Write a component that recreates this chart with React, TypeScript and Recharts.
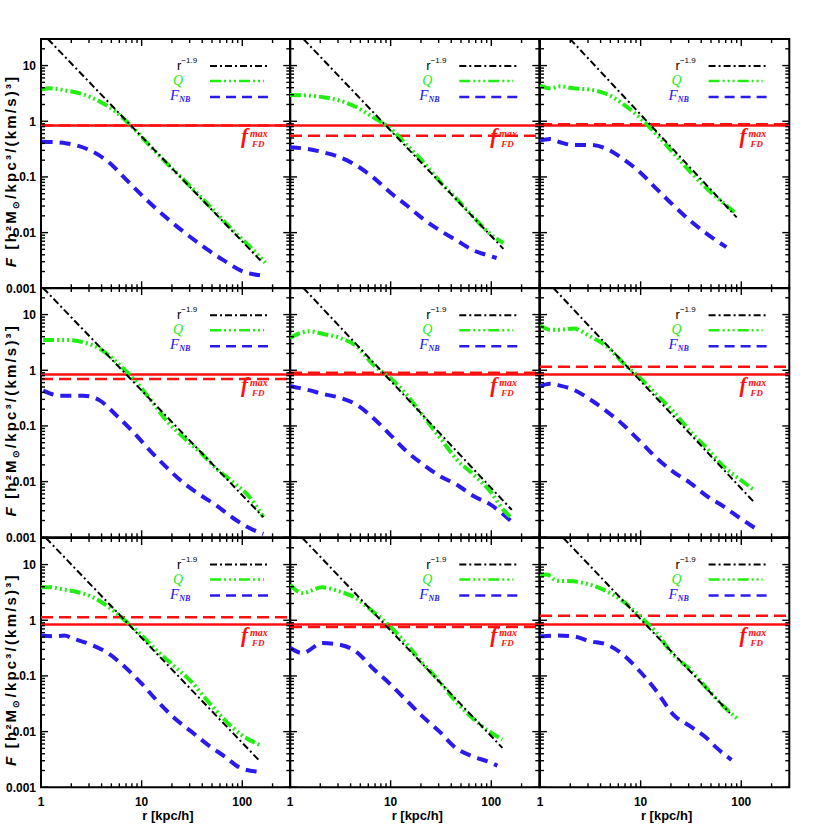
import React from "react";
import { LineChart, Line, XAxis, YAxis, ReferenceLine, ReferenceArea } from "recharts";

type Pt = [number, number];

// axis ticks
const X_TICKS = [1, 2, 3, 4, 5, 6, 7, 8, 9, 10, 20, 30, 40, 50, 60, 70, 80, 90, 100, 200, 300];
const X_MAJOR = [1, 10, 100];
const Y_TICKS = [
  0.001, 0.002, 0.003, 0.004, 0.005, 0.006, 0.007, 0.008, 0.009,
  0.01, 0.02, 0.03, 0.04, 0.05, 0.06, 0.07, 0.08, 0.09,
  0.1, 0.2, 0.3, 0.4, 0.5, 0.6, 0.7, 0.8, 0.9,
  1, 2, 3, 4, 5, 6, 7, 8, 9, 10, 20, 30,
];
const Y_MAJOR = [0.001, 0.01, 0.1, 1, 10];

// f_FD^max (solid red, same in every panel) and F_NB max (dashed red, per panel)
const FD_MAX = 0.84;
const FD_NB = [0.84, 0.55, 0.88, 0.7, 0.9, 1.16, 1.13, 0.76, 1.21];

// r^-1.9 reference lines: start / end
const PL1: Pt[] = [[1.17, 30], [156, 0.003]];
const PL2: Pt[] = [[1.36, 30], [132, 0.0051]];
const PL3: Pt[] = [[1.99, 30], [90, 0.0188]];
const PL4: Pt[] = [[1.05, 30], [162, 0.0023]];
const PL5: Pt[] = [[1.36, 30], [160, 0.0031]];
const PL6: Pt[] = [[1.36, 30], [132, 0.0044]];
const PL7: Pt[] = [[1.12, 30], [148, 0.003]];
const PL8: Pt[] = [[1.33, 30], [129, 0.0051]];
const PL9: Pt[] = [[1.71, 30], [77, 0.0216]];

// Q profiles
const Q1: Pt[] = [[1.015, 3.75], [1.23, 3.9], [1.8, 3.54], [2.63, 3.05], [3.86, 2.24], [5.24, 1.59], [7.68, 0.86], [12.1, 0.36], [17.8, 0.175], [26, 0.09], [38, 0.045], [55.6, 0.022], [81.6, 0.0108], [119, 0.0056], [169, 0.0029]];
const Q2: Pt[] = [[1, 2.96], [1.46, 2.9], [2.14, 2.7], [3.14, 2.34], [4.6, 1.78], [6.7, 1.18], [9.85, 0.75], [14.4, 0.38], [21.1, 0.185], [31, 0.082], [45.5, 0.04], [66.5, 0.019], [97.5, 0.0095], [132, 0.0065]];
const Q3: Pt[] = [[1, 4.36], [1.26, 3.9], [1.58, 4.24], [2.14, 3.9], [3.14, 3.69], [4.6, 3.09], [6.7, 2.04], [9.85, 1.15], [14.4, 0.58], [21.1, 0.27], [31, 0.125], [45.5, 0.062], [66.5, 0.034], [90, 0.0216]];
const Q4: Pt[] = [[1.05, 3.5], [1.8, 3.5], [2.63, 3.18], [3.86, 2.41], [5.65, 1.39], [8.3, 0.7], [12.1, 0.305], [17.7, 0.124], [26, 0.0625], [38, 0.034], [55.6, 0.0169], [81.5, 0.0097], [119, 0.0052], [162, 0.0023]];
const Q5: Pt[] = [[1, 3.8], [1.26, 4.67], [1.58, 5.0], [2.14, 4.48], [3.14, 3.8], [4.6, 2.69], [6.7, 1.26], [9.85, 0.73], [14.4, 0.365], [21.1, 0.149], [31, 0.061], [45.5, 0.0248], [66.5, 0.0134], [97.5, 0.0067], [132, 0.0031], [160, 0.0022]];
const Q6: Pt[] = [[1, 6.4], [1.26, 5.36], [1.58, 5.36], [2.14, 5.6], [3.14, 4.06], [4.6, 2.69], [6.7, 1.35], [9.85, 0.73], [14.4, 0.365], [21.1, 0.183], [31, 0.08], [45.5, 0.04], [66.5, 0.0188], [97.5, 0.0109], [132, 0.0072]];
const Q7: Pt[] = [[1, 3.9], [1.26, 3.9], [1.58, 3.64], [2.14, 3.31], [3.14, 2.69], [4.6, 1.78], [6.7, 1.02], [9.85, 0.55], [14.4, 0.277], [21.1, 0.149], [31, 0.08], [45.5, 0.035], [66.5, 0.0164], [97.5, 0.0088], [148, 0.0058]];
const Q8: Pt[] = [[1, 4.36], [1.33, 3.09], [2.1, 3.9], [3.07, 3.31], [4.5, 2.51], [6.6, 1.45], [9.6, 0.81], [14.1, 0.39], [20.7, 0.171], [30.4, 0.08], [44.3, 0.035], [64.9, 0.0176], [95.2, 0.0101], [129, 0.0072]];
const Q9: Pt[] = [[1, 6.4], [1.17, 6.6], [1.46, 5.14], [2.14, 5.0], [3.14, 4.36], [4.6, 3.31], [6.7, 2.19], [9.85, 1.18], [14.4, 0.59], [21.1, 0.24], [31, 0.13], [45.5, 0.06], [66.5, 0.0285], [94, 0.0164]];

// F_NB profiles
const NB1: Pt[] = [[1.015, 0.43], [1.8, 0.4], [3.07, 0.3], [4.85, 0.176], [6.57, 0.101], [10.4, 0.044], [16.4, 0.0207], [26, 0.0104], [41, 0.0056], [65, 0.0032], [102, 0.002], [157, 0.0017]];
const NB2: Pt[] = [[1, 0.34], [1.46, 0.32], [2.14, 0.277], [3.14, 0.225], [4.6, 0.16], [6.7, 0.098], [9.85, 0.053], [14.4, 0.031], [21.1, 0.0176], [31, 0.0109], [45.5, 0.0072], [66.5, 0.0048], [97.5, 0.0038], [113, 0.0035]];
const NB3: Pt[] = [[1, 0.45], [1.26, 0.48], [1.58, 0.42], [2.14, 0.375], [3.14, 0.375], [4.6, 0.32], [6.7, 0.21], [9.85, 0.121], [14.4, 0.061], [21.1, 0.031], [31, 0.0164], [45.5, 0.0095], [71, 0.0055]];
const NB4: Pt[] = [[1.05, 0.43], [1.55, 0.35], [2.63, 0.35], [3.86, 0.285], [5.65, 0.153], [8.3, 0.077], [12.1, 0.036], [17.7, 0.018], [26, 0.0095], [38, 0.0058], [55.6, 0.0037], [81.5, 0.0022], [119, 0.00145], [162, 0.00115]];
const NB5: Pt[] = [[1, 0.515], [1.46, 0.45], [2.14, 0.375], [3.14, 0.32], [4.6, 0.24], [6.7, 0.139], [9.85, 0.07], [14.4, 0.035], [21.1, 0.0202], [31, 0.0125], [45.5, 0.0088], [66.5, 0.0055], [97.5, 0.0039], [160, 0.0019]];
const NB6: Pt[] = [[1, 0.515], [1.26, 0.57], [1.58, 0.53], [2.14, 0.45], [3.14, 0.3], [4.6, 0.183], [6.7, 0.105], [9.85, 0.053], [14.4, 0.0266], [21.1, 0.015], [31, 0.0095], [45.5, 0.0055], [66.5, 0.0036], [97.5, 0.0022], [145, 0.00137]];
const NB7: Pt[] = [[1, 0.53], [1.36, 0.515], [1.7, 0.53], [2.14, 0.46], [3.14, 0.365], [4.6, 0.258], [6.7, 0.149], [9.85, 0.075], [14.4, 0.035], [21.1, 0.0176], [31, 0.0101], [45.5, 0.0058], [66.5, 0.0036], [97.5, 0.0022], [148, 0.0019]];
const NB8: Pt[] = [[1, 0.32], [1.33, 0.258], [2.1, 0.39], [3.07, 0.365], [4.5, 0.277], [6.6, 0.139], [9.6, 0.075], [14.1, 0.0376], [20.7, 0.0188], [30.4, 0.0101], [44.3, 0.0051], [64.9, 0.0036], [95.2, 0.00285], [115, 0.00245]];
const NB9: Pt[] = [[1, 0.515], [1.46, 0.53], [2.14, 0.515], [3.14, 0.42], [4.6, 0.365], [6.7, 0.24], [9.85, 0.12], [14.4, 0.053], [21.1, 0.0202], [31, 0.0125], [45.5, 0.0076], [57, 0.0051], [80, 0.0031]];

const PL = [PL1, PL2, PL3, PL4, PL5, PL6, PL7, PL8, PL9];
const QS = [Q1, Q2, Q3, Q4, Q5, Q6, Q7, Q8, Q9];
const NBS = [NB1, NB2, NB3, NB4, NB5, NB6, NB7, NB8, NB9];

const GREEN = "#22ee11";
const BLUE = "#2a1aee";
const RED = "#ff1010";

// layout
const X0 = 41;
const Y0 = 39;
const W = 249.3;
const ML = 45;
const MR = 6;
const MT = 6;
const MB = 42;

const LABEL_FONT = "'Liberation Sans', Arial, Helvetica, sans-serif";
const SERIF = "'Liberation Serif', 'Times New Roman', serif";

const toRows = (pts: Pt[]) => pts.map(([r, f]) => ({ r, f }));

const fmt = (v: number) => String(v);

function Panel({ idx }: { idx: number }) {
  const col = idx % 3;
  const row = Math.floor(idx / 3);
  const top = MT;
  const bottom = MT + W;
  const left = ML;
  const right = ML + W;

  const xTick = (p: any) => {
    const v = p.payload.value;
    const major = X_MAJOR.includes(v);
    const len = major ? 7 : 4;
    const x = p.x;
    return (
      <g>
        <line x1={x} x2={x} y1={bottom} y2={bottom - len} stroke="#000" strokeWidth={1.4} />
        <line x1={x} x2={x} y1={top} y2={top + len} stroke="#000" strokeWidth={1.4} />
        {row === 2 && major && (
          <text x={x} y={bottom + 19} textAnchor="middle" fontFamily={LABEL_FONT} fontWeight="bold" fontSize={12} fill="#000">
            {fmt(v)}
          </text>
        )}
      </g>
    );
  };

  const yTick = (p: any) => {
    const v = p.payload.value;
    const major = Y_MAJOR.includes(v);
    const len = major ? 7 : 4;
    const y = p.y;
    return (
      <g>
        <line x1={left} x2={left + len} y1={y} y2={y} stroke="#000" strokeWidth={1.4} />
        <line x1={right} x2={right - len} y1={y} y2={y} stroke="#000" strokeWidth={1.4} />
        {col === 0 && major && (
          <text x={left - 5} y={y} dy="0.36em" textAnchor="end" fontFamily={LABEL_FONT} fontWeight="bold" fontSize={12} fill="#000">
            {fmt(v)}
          </text>
        )}
      </g>
    );
  };

  // the axes need a non-zero size to render, so take 1px from the margins
  return (
    <div style={{ position: "absolute", left: X0 + col * W - ML, top: Y0 + row * W - MT }}>
      <LineChart width={W + ML + MR} height={W + MT + MB} margin={{ top: MT, right: MR, left: ML - 1, bottom: MB - 1 }}>
        <XAxis
          xAxisId="x"
          dataKey="r"
          type="number"
          scale="log"
          domain={[1, 300]}
          allowDataOverflow
          ticks={X_TICKS}
          interval={0}
          height={1}
          axisLine={false}
          tickLine={false}
          tick={xTick}
        />
        <YAxis
          yAxisId="y"
          dataKey="f"
          type="number"
          scale="log"
          domain={[0.001, 30]}
          allowDataOverflow
          ticks={Y_TICKS}
          interval={0}
          width={1}
          axisLine={false}
          tickLine={false}
          tick={yTick}
        />
        <ReferenceLine xAxisId="x" yAxisId="y" y={FD_NB[idx]} stroke={RED} strokeWidth={2.5} strokeDasharray="12 6" />
        <ReferenceLine xAxisId="x" yAxisId="y" y={FD_MAX} stroke={RED} strokeWidth={2.5} />
        <Line
          xAxisId="x"
          yAxisId="y"
          data={toRows(NBS[idx])}
          dataKey="f"
          type="monotone"
          stroke={BLUE}
          strokeWidth={4}
          strokeDasharray="11 7"
          dot={false}
          activeDot={false}
          isAnimationActive={false}
        />
        <Line
          xAxisId="x"
          yAxisId="y"
          data={toRows(QS[idx])}
          dataKey="f"
          type="monotone"
          stroke={GREEN}
          strokeWidth={4}
          strokeDasharray="11 3 2 3 2 3 2 3"
          dot={false}
          activeDot={false}
          isAnimationActive={false}
        />
        <Line
          xAxisId="x"
          yAxisId="y"
          data={toRows(PL[idx])}
          dataKey="f"
          type="linear"
          stroke="#000"
          strokeWidth={2}
          strokeDasharray="7 3 2 3"
          dot={false}
          activeDot={false}
          isAnimationActive={false}
        />
        <ReferenceArea
          xAxisId="x"
          yAxisId="y"
          x1={1}
          x2={300}
          y1={0.001}
          y2={30}
          fill="none"
          stroke="#000"
          strokeWidth={2}
          ifOverflow="visible"
        />
      </LineChart>
    </div>
  );
}

function PanelText({ idx }: { idx: number }) {
  const col = idx % 3;
  const row = Math.floor(idx / 3);
  const px = X0 + col * W;
  const py = Y0 + row * W;
  return (
    <g>
      <text x={px + 136} y={py + 31} fontFamily="'Liberation Sans', Arial, sans-serif" fontSize={13} fill="#000">
        r<tspan dy={-7} fontSize={8}>−1.9</tspan>
      </text>
      <line x1={px + 169} x2={px + 226} y1={py + 27} y2={py + 27} stroke="#000" strokeWidth={2} strokeDasharray="7 3 2 3" />
      <text x={px + 132} y={py + 46} fontFamily={SERIF} fontStyle="italic" fontSize={14} fill={GREEN}>
        Q
      </text>
      <line x1={px + 169} x2={px + 223} y1={py + 42} y2={py + 42} stroke={GREEN} strokeWidth={2.5} strokeDasharray="11 3 2 3 2 3 2 3" />
      <text x={px + 129} y={py + 61} fontFamily={SERIF} fontStyle="italic" fontSize={15} fill={BLUE}>
        F<tspan dy={2} fontSize={8} fontWeight="bold">NB</tspan>
      </text>
      <line x1={px + 169} x2={px + 227} y1={py + 58} y2={py + 58} stroke={BLUE} strokeWidth={2.5} strokeDasharray="10 6" />
      <text fontFamily={SERIF} fontStyle="italic" fontWeight="bold" fill={RED}>
        <tspan x={px + 200} y={py + 104} fontSize={21}>f</tspan>
        <tspan x={px + 209} y={py + 98} fontSize={10}>max</tspan>
        <tspan x={px + 211} y={py + 108} fontSize={9}>FD</tspan>
      </text>
    </g>
  );
}

function YTitle({ row }: { row: number }) {
  const cx = 16;
  const cy = Y0 + row * W + 132;
  return (
    <text
      x={cx}
      y={cy}
      transform={`rotate(-90 ${cx} ${cy})`}
      textAnchor="middle"
      fontFamily={LABEL_FONT}
      fontWeight="bold"
      fontSize={15}
      letterSpacing={2.2}
      fill="#000"
    >
      <tspan fontStyle="italic">F</tspan>
      <tspan>{"  [h²M"}</tspan>
      <tspan fontSize={9} dy={3}>⊙</tspan>
      <tspan dy={-3}>{"/kpc³/(km/s)³]"}</tspan>
    </text>
  );
}

export default function App() {
  const idxs = [0, 1, 2, 3, 4, 5, 6, 7, 8];
  return (
    <div style={{ position: "absolute", left: 0, top: 0, width: 830, height: 830, background: "#fff" }}>
      {idxs.map((i) => (
        <Panel key={i} idx={i} />
      ))}
      <svg width={830} height={830} style={{ position: "absolute", left: 0, top: 0, pointerEvents: "none" }}>
        {idxs.map((i) => (
          <PanelText key={i} idx={i} />
        ))}
        {[0, 1, 2].map((r) => (
          <YTitle key={r} row={r} />
        ))}
        {[0, 1, 2].map((c) => (
          <text
            key={c}
            x={X0 + c * W + 127}
            y={820}
            textAnchor="middle"
            fontFamily={LABEL_FONT}
            fontWeight="bold"
            fontSize={13}
            fill="#000"
          >
            r [kpc/h]
          </text>
        ))}
      </svg>
    </div>
  );
}
